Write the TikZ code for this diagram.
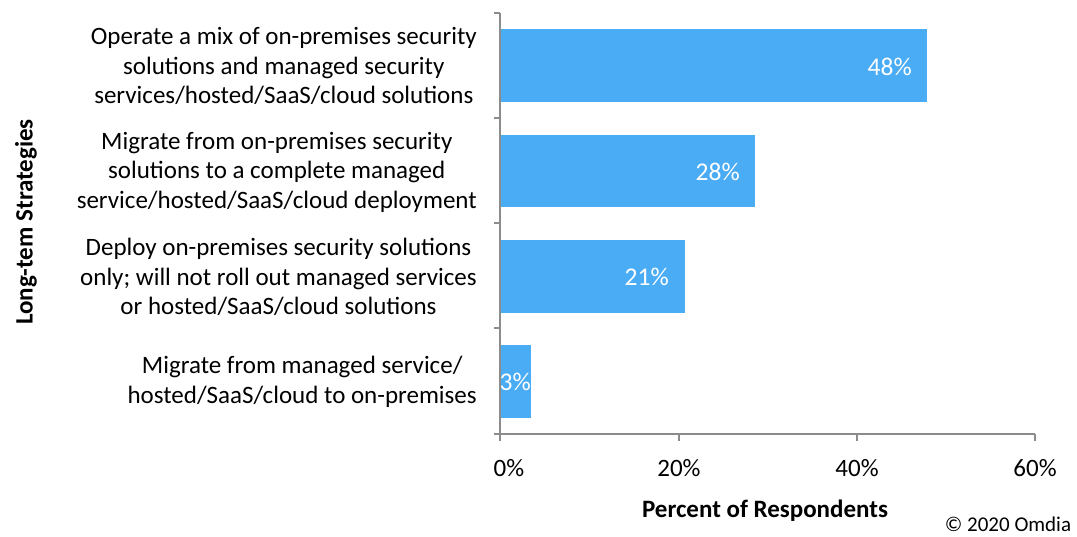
\documentclass[tikz,border=0pt]{standalone}
\usepackage{fontspec}
\setmainfont{Carlito}
\definecolor{barblue}{RGB}{75,172,246}
\definecolor{axisgray}{RGB}{140,140,140}
\definecolor{txt}{RGB}{0,0,0}
\begin{document}
\begin{tikzpicture}[x=1pt,y=-1pt,
  bar/.style={fill=barblue,draw=none},
  axisline/.style={draw=axisgray,line width=1.8pt},
  cat/.style={anchor=east,align=center,font=\fontsize{25}{29.5}\selectfont,text=txt,inner sep=0pt},
  val/.style={anchor=east,font=\fontsize{25.5}{29}\selectfont,text=white,inner sep=0pt},
  ticklab/.style={font=\fontsize{25}{29}\selectfont,inner sep=0pt},
  ttl/.style={font=\bfseries\fontsize{25}{29}\selectfont,inner sep=0pt}]
\useasboundingbox (0,0) rectangle (1077,537);
% bars
\fill[bar] (500,29) rectangle (927,102);
\fill[bar] (500,135) rectangle (755,207);
\fill[bar] (500,240) rectangle (685,313);
\fill[bar] (500,345) rectangle (531,418);
\node[val] (v1) at (912,67) {48\%};
\node[val] (v2) at (740,172) {28\%};
\node[val] (v3) at (669,277) {21\%};
\node[val] (v4) at (531,382) {3\%};
% axes
\coordinate (o) at (500,434);
\coordinate (top) at (500,13);
\coordinate (xend) at (1035,434);
\draw[axisline] (top) -- (o) -- (xend);
\foreach \y in {13,118,223,328,434} \draw[axisline] (494,\y) -- (500,\y);
\foreach \x in {500,679,857,1035} \draw[axisline] (\x,434) -- (\x,441);
\node[ticklab] (t0) at (509,468) {0\%};
\node[ticklab] (t1) at (679,468) {20\%};
\node[ticklab] (t2) at (857,468) {40\%};
\node[ticklab] (t3) at (1035,468) {60\%};
% category labels
\node[cat] (c1) at (477,66) {Operate a mix of on-premises security\\solutions and managed security\\services/hosted/SaaS/cloud solutions};
\node[cat] (c2) at (477,172) {Migrate from on-premises security\\solutions to a complete managed\\service/hosted/SaaS/cloud deployment};
\node[cat] (c3) at (477,277) {Deploy on-premises security solutions\\only; will not roll out managed services\\or hosted/SaaS/cloud solutions};
\node[cat] (c4) at (477,382) {Migrate from managed service/\\hosted/SaaS/cloud to on-premises};
% titles
\node[ttl] (xt) at (765,511) {Percent of Respondents};
\node[ttl,rotate=90] (yt) at (26,222) {Long-tem Strategies};
\node[font=\fontsize{21}{25}\selectfont,inner sep=0pt] (cr) at (1008,524) {© 2020 Omdia};
\end{tikzpicture}
\end{document}
